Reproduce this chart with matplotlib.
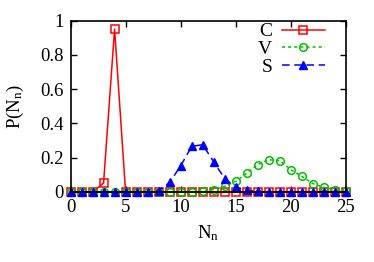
import matplotlib
matplotlib.use("Agg")
import matplotlib.pyplot as plt

plt.rcParams["font.family"] = ["Liberation Serif", "DejaVu Serif"]
plt.rcParams["mathtext.fontset"] = "stix"

n = list(range(26))
p_c = [0, 0, 0, 0.052, 0.95, 0, 0, 0, 0, 0, 0, 0, 0, 0, 0, 0, 0, 0, 0, 0, 0, 0, 0, 0, 0, 0]
p_v = [0, 0, 0, 0, 0, 0, 0, 0, 0, 0, 0, 0, 0.004, 0.014, 0.033, 0.062, 0.11, 0.16,
       0.188, 0.183, 0.13, 0.091, 0.049, 0.027, 0.014, 0.004]
p_s = [0, 0, 0, 0, 0, 0, 0, 0, 0.008, 0.056, 0.153, 0.266, 0.276, 0.175, 0.078,
       0.027, 0.01, 0.003, 0, 0, 0, 0, 0, 0, 0, 0]

fig = plt.figure(figsize=(3.74, 2.62), dpi=100)
ax = fig.add_axes([70.5 / 374, 1 - 192 / 262, (346 - 70.5) / 374, (192 - 20.5) / 262])

ax.plot(n, p_c, "-", color="#ff0000", lw=1.1, marker="s", ms=5.5,
        mfc="none", mec="#ff0000", mew=1.1, label="C", clip_on=False)
ax.plot(n, p_v, linestyle=(0, (2, 2)), color="#00c000", lw=1.1, marker="o", ms=5.5,
        mfc="none", mec="#00c000", mew=1.1, label="V", clip_on=False)
ax.plot(n, p_s, linestyle=(0, (5, 3)), color="#0000ff", lw=1.1, marker="^", ms=6,
        mfc="#0000ff", mec="#0000ff", label="S", clip_on=False)

ax.set_xlim(0, 25)
ax.set_ylim(0, 1)
ax.set_xticks([0, 5, 10, 15, 20, 25])
ax.set_yticks([0, 0.2, 0.4, 0.6, 0.8, 1])
ax.set_yticklabels(["0", "0.2", "0.4", "0.6", "0.8", "1"])
ax.tick_params(direction="in", top=True, right=True, labelsize=13.5, length=4, width=1,
               pad=5)
for s in ax.spines.values():
    s.set_linewidth(1.2)

ax.set_xlabel(r"N$_\mathregular{n}$", fontsize=13.5, labelpad=5)
ax.set_ylabel(r"P(N$_\mathregular{n}$)", fontsize=13.5, labelpad=10)

ax.legend(loc="upper right", frameon=False, markerfirst=False, fontsize=14,
          handlelength=2.2, labelspacing=0.0, borderaxespad=0.2,
          handletextpad=0.5, bbox_to_anchor=(0.965, 1.055))

fig.savefig("out.png", dpi=100)
